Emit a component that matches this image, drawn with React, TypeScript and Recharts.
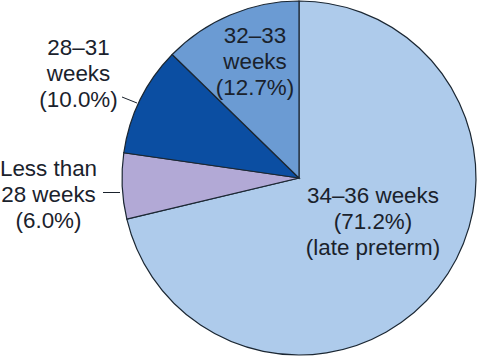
import { PieChart, Pie, Cell } from 'recharts';

const CATEGORIES = ['34–36 weeks', 'Less than 28 weeks', '28–31 weeks', '32–33 weeks'];
const SHARES = [71.2, 6.0, 10.0, 12.7];
const LABEL_LINES = [
  ['34–36 weeks', '(71.2%)', '(late preterm)'],
  ['Less than', '28 weeks', '(6.0%)'],
  ['28–31', 'weeks', '(10.0%)'],
  ['32–33', 'weeks', '(12.7%)'],
];

const COLORS = ['#aecbeb', '#b2a9d6', '#0b4ea2', '#6b9bd3'];
const TEXT = '#1a222c';

// label anchor (first baseline) and optional leader line, relative to the pie centre
const LABEL_LAYOUT = [
  { dx: 74, dy: 25, leader: null },
  { dx: -250.5, dy: -2, leader: [-196, 14.5, -179, 14.5] },
  { dx: -220.5, dy: -123, leader: [-177, -81, -162, -75] },
  { dx: -44, dy: -135, leader: null },
];
const LINE_STEP = 26;

const data = CATEGORIES.map((name, i) => ({ name, value: SHARES[i] }));

const renderLabel = (props: any) => {
  const { cx, cy, index } = props;
  const lay = LABEL_LAYOUT[index];
  const x = cx + lay.dx;
  const y = cy + lay.dy;
  return (
    <g key={`lbl-${index}`}>
      {lay.leader && (
        <line
          x1={cx + lay.leader[0]}
          y1={cy + lay.leader[1]}
          x2={cx + lay.leader[2]}
          y2={cy + lay.leader[3]}
          stroke={TEXT}
          strokeWidth={1}
        />
      )}
      <text
        x={x}
        y={y}
        textAnchor="middle"
        fill={TEXT}
        fontSize={22.4}
        fontFamily='"Liberation Sans", Arial, sans-serif'
      >
        {LABEL_LINES[index].map((line, j) => (
          <tspan key={j} x={x} y={y + j * LINE_STEP}>
            {line}
          </tspan>
        ))}
      </text>
    </g>
  );
};

export default function App() {
  return (
    <div style={{ position: 'absolute', left: 0, top: 0, background: '#fff' }}>
      <PieChart width={479} height={359} margin={{ top: 0, right: 0, bottom: 0, left: 0 }}>
        <Pie
          data={data}
          dataKey="value"
          cx={299}
          cy={178}
          outerRadius={177}
          startAngle={90}
          endAngle={-270}
          stroke="#1b2733"
          strokeWidth={1.2}
          label={renderLabel}
          labelLine={false}
          isAnimationActive={false}
        >
          {data.map((d, i) => (
            <Cell key={d.name} fill={COLORS[i]} />
          ))}
        </Pie>
      </PieChart>
    </div>
  );
}
